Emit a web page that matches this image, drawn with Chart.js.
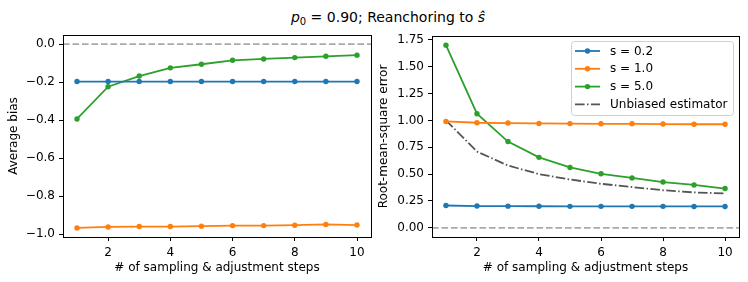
<!DOCTYPE html>
<html><head><meta charset="utf-8">
<script src="https://cdn.jsdelivr.net/npm/chart.js@4/dist/chart.umd.min.js"></script>
<style>
html,body{margin:0;padding:0;background:#fff;}
#wrap{position:relative;width:748px;height:282px;overflow:hidden;font-family:"DejaVu Sans",sans-serif;}
#title{position:absolute;top:9px;left:388px;transform:translateX(-50%);white-space:nowrap;font-size:14px;color:#000;}
#title sub{font-size:10px;vertical-align:-3px;line-height:0;}
#c1{position:absolute;left:0;top:0;}
#c2{position:absolute;left:370px;top:0;}
</style></head><body>
<div id="wrap">
<div id="title"><i>p</i><sub>0</sub> = 0.90; Reanchoring to <i>ŝ</i></div>
<canvas id="c1" width="380" height="282" style="width:380px;height:282px"></canvas>
<canvas id="c2" width="378" height="282" style="width:378px;height:282px"></canvas>
</div>
<script>
const steps = [1, 2, 3, 4, 5, 6, 7, 8, 9, 10];
const xTicks = [2, 4, 6, 8, 10];
const seriesLabels = ['s = 0.2', 's = 1.0', 's = 5.0', 'Unbiased estimator'];
const colors = ['#1f77b4', '#ff7f0e', '#2ca02c', '#555555'];

const biasS02 = [-0.197, -0.197, -0.197, -0.197, -0.197, -0.197, -0.197, -0.197, -0.197, -0.197];
const biasS10 = [-0.967, -0.962, -0.960, -0.960, -0.958, -0.955, -0.955, -0.953, -0.949, -0.952];
const biasS50 = [-0.394, -0.224, -0.168, -0.125, -0.106, -0.085, -0.078, -0.071, -0.064, -0.058];
const biasYTicks = [0.0, -0.2, -0.4, -0.6, -0.8, -1.0];

const rmseS02 = [0.208, 0.203, 0.202, 0.201, 0.200, 0.200, 0.200, 0.200, 0.199, 0.199];
const rmseS10 = [0.990, 0.978, 0.975, 0.972, 0.970, 0.968, 0.968, 0.966, 0.964, 0.964];
const rmseS50 = [1.700, 1.062, 0.803, 0.656, 0.562, 0.503, 0.465, 0.426, 0.399, 0.366];
const rmseUnbiased = [1.00, 0.71, 0.58, 0.50, 0.45, 0.41, 0.38, 0.35, 0.33, 0.32];
const rmseYTicks = [0.00, 0.25, 0.50, 0.75, 1.00, 1.25, 1.50, 1.75];

Chart.defaults.font.family = 'DejaVu Sans';
Chart.defaults.font.size = 12;
Chart.defaults.color = '#000';
Chart.defaults.animation = false;

function pts(ys){ return steps.map((x,i)=>({x:x, y:ys[i]})); }
function lineDs(label, ys, color, dash){
  return {label:label, data:pts(ys), borderColor:color, backgroundColor:color,
    borderWidth:1.8, pointRadius: dash ? 0 : 2.7, pointBorderWidth:0, pointHoverRadius:0,
    borderDash: dash || [], tension:0, fill:false};
}
function fmt(v, d){ const s = Math.abs(v).toFixed(d); return (v < -1e-9 ? '\u2212' : '') + s; }

const framePlugin = {
  id:'frame',
  beforeDatasetsDraw(chart){
    const {ctx, chartArea:a, scales} = chart;
    const y0 = scales.y.getPixelForValue(0);
    ctx.save();
    ctx.strokeStyle = '#aaaaaa'; ctx.lineWidth = 1.8; ctx.setLineDash([6.6, 2.9]);
    ctx.beginPath(); ctx.moveTo(a.left, y0); ctx.lineTo(a.right, y0); ctx.stroke();
    ctx.restore();
  },
  afterDraw(chart){
    const {ctx, chartArea:a} = chart;
    ctx.save(); ctx.strokeStyle = '#000'; ctx.lineWidth = 1; ctx.setLineDash([]);
    const l = Math.round(a.left), t = Math.round(a.top), r = Math.round(a.right), b = Math.round(a.bottom);
    ctx.strokeRect(l + 0.5, t + 0.5, r - l, b - t);
    ctx.restore();
  }
};

const legendPlugin = {
  id:'mplLegend',
  afterDraw(chart){
    const {ctx, chartArea:a} = chart;
    const bx = a.right - 168, by = a.top + 5, bw = 162, bh = 74;
    ctx.save();
    ctx.fillStyle = 'rgba(255,255,255,0.85)'; ctx.strokeStyle = '#d0d0d0'; ctx.lineWidth = 1;
    ctx.beginPath(); ctx.roundRect(bx+0.5, by+0.5, bw, bh, 3); ctx.fill(); ctx.stroke();
    ctx.font = '12px "DejaVu Sans"'; ctx.textBaseline = 'middle'; ctx.textAlign = 'left';
    chart.data.datasets.forEach((ds, i) => {
      const y = by + 10 + i * 17.8;
      ctx.strokeStyle = ds.borderColor; ctx.lineWidth = ds.borderWidth;
      ctx.setLineDash(ds.borderDash || []);
      ctx.beginPath(); ctx.moveTo(bx + 4, y); ctx.lineTo(bx + 29, y); ctx.stroke();
      ctx.setLineDash([]);
      if (ds.pointRadius > 0) { ctx.fillStyle = ds.borderColor; ctx.beginPath(); ctx.arc(bx + 16.5, y, ds.pointRadius, 0, Math.PI*2); ctx.fill(); }
      ctx.fillStyle = '#000'; ctx.fillText(ds.label, bx + 39, y + 0.5);
    });
    ctx.restore();
  }
};

function makeOpts(yMin, yMax, yTicks, dec, yTitle, yWidth, topPad){
  return {
    responsive:false, maintainAspectRatio:false,
    layout:{padding:{left:0, top:topPad, right:9, bottom:0}},
    plugins:{legend:{display:false}, tooltip:{enabled:false}},
    scales:{
      x:{type:'linear', min:0.55, max:10.45,
        afterBuildTicks:s=>{ s.ticks = xTicks.map(v=>({value:v})); },
        afterFit:s=>{ s.height = 45; },
        ticks:{callback:v=>String(v), padding:5, maxRotation:0, autoSkip:false},
        grid:{display:true, drawOnChartArea:false, drawTicks:true, tickLength:4, color:'#000', lineWidth:1},
        border:{display:false},
        title:{display:true, text:'# of sampling & adjustment steps', padding:{top:0, bottom:7}, font:{size:12}}
      },
      y:{type:'linear', min:yMin, max:yMax,
        afterBuildTicks:s=>{ s.ticks = yTicks.map(v=>({value:v})); },
        afterFit:s=>{ s.width = yWidth; },
        ticks:{callback:v=>fmt(v, dec), padding:4, autoSkip:false},
        grid:{display:true, drawOnChartArea:false, drawTicks:true, tickLength:4, color:'#000', lineWidth:1},
        border:{display:false},
        title:{display:true, text:yTitle, padding:{top:7, bottom:0}, font:{size:12}}
      }
    }
  };
}

new Chart(document.getElementById('c1'), {
  type:'line',
  data:{datasets:[
    lineDs(seriesLabels[0], biasS02, colors[0]),
    lineDs(seriesLabels[1], biasS10, colors[1]),
    lineDs(seriesLabels[2], biasS50, colors[2])
  ]},
  options:makeOpts(-1.015, 0.048, biasYTicks, 1, 'Average bias', 63, 35),
  plugins:[framePlugin]
});

new Chart(document.getElementById('c2'), {
  type:'line',
  data:{datasets:[
    lineDs(seriesLabels[0], rmseS02, colors[0]),
    lineDs(seriesLabels[1], rmseS10, colors[1]),
    lineDs(seriesLabels[2], rmseS50, colors[2]),
    lineDs(seriesLabels[3], rmseUnbiased, colors[3], [9.6, 2.4, 1.5, 2.4])
  ]},
  options:makeOpts(-0.085, 1.785, rmseYTicks, 2, 'Root-mean-square error', 62, 36),
  plugins:[framePlugin, legendPlugin]
});
</script>
</body></html>
